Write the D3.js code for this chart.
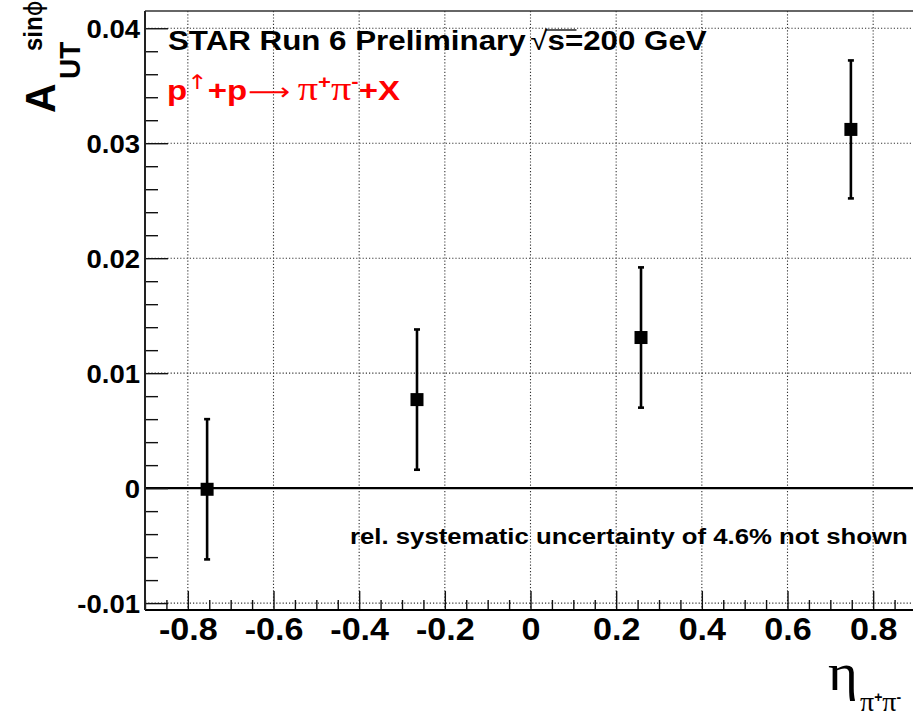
<!DOCTYPE html>
<html>
<head>
<meta charset="utf-8">
<script src="https://cdn.jsdelivr.net/npm/d3@7"></script>
<style>
  body { margin: 0; background: #fff; }
  svg { display: block; font-family: "Liberation Sans", Arial, sans-serif; }
</style>
</head>
<body>
<div id="chart"></div>
<script>
// pseudorapidity bin centres and the sin(phi) asymmetry in each bin
const etaBins = [-0.755, -0.265, 0.258, 0.748];
const asymmetry = [-0.0001, 0.0077, 0.0131, 0.0312];
const asymError = [0.0061, 0.0061, 0.0061, 0.0060];

const xTicks = [-0.8, -0.6, -0.4, -0.2, 0, 0.2, 0.4, 0.6, 0.8];
const xTickLabels = ["-0.8", "-0.6", "-0.4", "-0.2", "0", "0.2", "0.4", "0.6", "0.8"];
const yTicks = [-0.01, 0, 0.01, 0.02, 0.03, 0.04];
const yTickLabels = ["-0.01", "0", "0.01", "0.02", "0.03", "0.04"];

const width = 913,
      height = 719,
      margin = ({ top: 11, right: -3, bottom: 109, left: 145 });

const data = etaBins.map((e, i) => ({ eta: e, a: asymmetry[i], err: asymError[i] }));

let svg = d3.select("#chart")
    .append("svg")
    .attr("width", width)
    .attr("height", height);

let x = d3.scaleLinear()
    .domain([-0.9, 0.9])
    .range([margin.left, width - margin.right]);

let y = d3.scaleLinear()
    .domain([-0.0106, 0.0415])
    .range([height - margin.bottom, margin.top]);

const x0 = x.range()[0], x1 = x.range()[1];
const yb = y.range()[0], yt = y.range()[1];

// dotted grid at the major ticks
svg.append("g")
    .selectAll("line")
    .data(xTicks)
    .join("line")
    .attr("x1", d => x(d)).attr("x2", d => x(d))
    .attr("y1", yt).attr("y2", yb)
    .attr("stroke", "#333")
    .attr("stroke-width", 1.1)
    .attr("stroke-dasharray", "1.2,2");

svg.append("g")
    .selectAll("line")
    .data(yTicks)
    .join("line")
    .attr("x1", x0).attr("x2", x1)
    .attr("y1", d => y(d)).attr("y2", d => y(d))
    .attr("stroke", "#333")
    .attr("stroke-width", 1.1)
    .attr("stroke-dasharray", "1.2,2");

// zero line
svg.append("line")
    .attr("x1", x0).attr("x2", x1)
    .attr("y1", y(0)).attr("y2", y(0))
    .attr("stroke", "#000")
    .attr("stroke-width", 2.2);

// ticks inside the frame: majors and minors
const xMinor = d3.range(-18, 19).filter(i => i % 4 !== 0).map(i => i * 0.05);
const yMinor = d3.range(-5, 21).filter(i => i % 5 !== 0).map(i => i * 0.002);

function cleanTicks(g) {
    g.select(".domain").remove();
    g.selectAll("line").attr("stroke", "#111").attr("stroke-width", 1.4);
}

svg.append("g")
    .attr("transform", `translate(0,${yb})`)
    .call(d3.axisTop(x).tickValues(xTicks).tickSize(19).tickFormat(""))
    .call(cleanTicks);
svg.append("g")
    .attr("transform", `translate(0,${yb})`)
    .call(d3.axisTop(x).tickValues(xMinor).tickSize(10).tickFormat(""))
    .call(cleanTicks);
svg.append("g")
    .attr("transform", `translate(${x0},0)`)
    .call(d3.axisRight(y).tickValues(yTicks).tickSize(23).tickFormat(""))
    .call(cleanTicks);
svg.append("g")
    .attr("transform", `translate(${x0},0)`)
    .call(d3.axisRight(y).tickValues(yMinor).tickSize(13).tickFormat(""))
    .call(cleanTicks);

// tick labels (slightly wide, as in the original canvas)
svg.append("g")
    .attr("transform", `translate(0,${yb})`)
    .call(d3.axisBottom(x).tickValues(xTicks).tickSize(0).tickPadding(8)
        .tickFormat((d, i) => xTickLabels[i]))
    .call(g => g.select(".domain").remove())
    .selectAll("text")
    .attr("fill", "#000")
    .attr("transform", "scale(1.1,1)")
    .style("font-family", "Liberation Sans")
    .style("font-weight", "bold")
    .style("font-size", "31px");

svg.append("g")
    .attr("transform", `translate(${x0},0)`)
    .call(d3.axisLeft(y).tickValues(yTicks).tickSize(0).tickPadding(0)
        .tickFormat((d, i) => yTickLabels[i]))
    .call(g => g.select(".domain").remove())
    .selectAll("text")
    .attr("fill", "#000")
    .attr("x", -5 / 1.1)
    .attr("dy", "0.36em")
    .attr("transform", "scale(1.1,1)")
    .style("font-family", "Liberation Sans")
    .style("font-weight", "bold")
    .style("font-size", "25px");

// frame
svg.append("line")
    .attr("x1", x0).attr("x2", x1).attr("y1", yt).attr("y2", yt)
    .attr("stroke", "#333").attr("stroke-width", 1.6);
svg.append("line")
    .attr("x1", x0).attr("x2", x1).attr("y1", yb).attr("y2", yb)
    .attr("stroke", "#000").attr("stroke-width", 2);
svg.append("line")
    .attr("x1", x0).attr("x2", x0).attr("y1", yt).attr("y2", yb)
    .attr("stroke", "#222").attr("stroke-width", 2);

// error bars and markers
let pts = svg.append("g")
    .selectAll("g")
    .data(data)
    .join("g");

pts.append("line")
    .attr("x1", d => x(d.eta)).attr("x2", d => x(d.eta))
    .attr("y1", d => y(d.a - d.err)).attr("y2", d => y(d.a + d.err))
    .attr("stroke", "#000").attr("stroke-width", 2.6);

pts.selectAll(".cap")
    .data(d => [d.a - d.err, d.a + d.err].map(v => ({ eta: d.eta, v: v })))
    .join("line")
    .attr("class", "cap")
    .attr("x1", d => x(d.eta) - 3).attr("x2", d => x(d.eta) + 3)
    .attr("y1", d => y(d.v)).attr("y2", d => y(d.v))
    .attr("stroke", "#000").attr("stroke-width", 2.6);

pts.append("rect")
    .attr("x", d => x(d.eta) - 6.5)
    .attr("y", d => y(d.a) - 6.5)
    .attr("width", 13).attr("height", 13)
    .attr("fill", "#000");

// stretch a text group horizontally so it spans the given width
function fitWidth(g, left, w) {
    const bb = g.node().getBBox();
    const s = w / bb.width;
    g.attr("transform", `translate(${left - bb.x * s},0) scale(${s},1)`);
}

// header
let head = svg.append("g");
let ht = head.append("text")
    .attr("y", 50)
    .style("font-size", "27px")
    .style("font-weight", "bold");
ht.append("tspan").text("STAR Run 6 Preliminary");
ht.append("tspan").attr("dx", 4).style("font-weight", "normal").text("√");
ht.append("tspan").text("s=200 GeV");
fitWidth(head, 168, 539);
{
    const r = ht.node().getExtentOfChar(22);
    const s = ht.node().getExtentOfChar(23);
    head.append("line")
        .attr("x1", r.x + r.width - 1.5).attr("x2", s.x + s.width + 10)
        .attr("y1", r.y + 4).attr("y2", r.y + 4)
        .attr("stroke", "#000").attr("stroke-width", 1.3);
}

// reaction
let react = svg.append("g");
let rt = react.append("text")
    .attr("y", 100)
    .attr("fill", "#ff0000")
    .style("font-size", "27px")
    .style("font-weight", "bold");
rt.append("tspan").text("p");
rt.append("tspan").attr("dy", -11).style("font-family", "DejaVu Sans")
    .style("font-weight", "normal").style("font-size", "20px").text("↑");
rt.append("tspan").attr("dy", 11).text("+p");
rt.append("tspan").attr("dx", 1).style("font-family", "DejaVu Sans")
    .style("font-weight", "normal").style("font-size", "24px").text("⟶");
rt.append("tspan").attr("dx", 6).style("font-family", "Liberation Serif")
    .style("font-weight", "normal").style("font-size", "33px").text("π");
rt.append("tspan").attr("dy", -12).style("font-size", "18px").text("+");
rt.append("tspan").attr("dy", 12).style("font-family", "Liberation Serif")
    .style("font-weight", "normal").style("font-size", "33px").text("π");
rt.append("tspan").attr("dy", -12).style("font-size", "18px").text("-");
rt.append("tspan").attr("dy", 12).text("+X");
fitWidth(react, 167, 233);

// systematic note
let note = svg.append("g");
note.append("text")
    .attr("y", 544)
    .style("font-size", "22px")
    .style("font-weight", "bold")
    .text("rel. systematic uncertainty of 4.6% not shown");
fitWidth(note, 350, 558);

// y axis title
let ytitle = svg.append("g").attr("transform", "translate(55,113) rotate(-90) scale(1,1.05)");
ytitle.append("text")
    .style("font-size", "41px").style("font-weight", "bold")
    .text("A");
ytitle.append("text")
    .attr("x", 34).attr("y", 24)
    .style("font-size", "28px").style("font-weight", "bold")
    .text("UT");
let sup = ytitle.append("text")
    .attr("x", 62).attr("y", -12)
    .style("font-size", "24px").style("font-weight", "bold");
sup.append("tspan").text("sin");
sup.append("tspan").style("font-family", "DejaVu Sans").style("font-weight", "normal").text("ϕ");

// x axis title
svg.append("text")
    .attr("x", 828 / 1.1).attr("y", 690)
    .attr("transform", "scale(1.1,1)")
    .style("font-family", "Liberation Serif")
    .style("font-size", "52px")
    .text("η");
let sub = svg.append("text")
    .attr("x", 860).attr("y", 711)
    .style("font-family", "Liberation Serif")
    .style("font-size", "28px");
sub.append("tspan").text("π");
sub.append("tspan").attr("dy", -9).style("font-family", "Liberation Sans")
    .style("font-weight", "bold").style("font-size", "14px").text("+");
sub.append("tspan").attr("dy", 9).text("π");
sub.append("tspan").attr("dy", -9).style("font-family", "Liberation Sans")
    .style("font-weight", "bold").style("font-size", "14px").text("-");
</script>
</body>
</html>
